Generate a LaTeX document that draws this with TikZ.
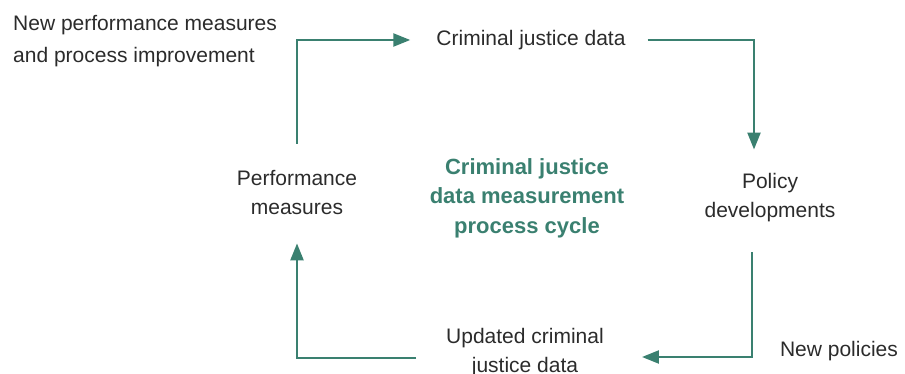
\documentclass[tikz,border=0pt]{standalone}
\usepackage{fontspec}
\setmainfont{Liberation Sans}
\usetikzlibrary{arrows.meta,positioning}

\definecolor{cycleteal}{HTML}{3A8070}
\definecolor{txtgray}{HTML}{2B2B2B}

\tikzset{
  lbl/.style={font=\fontsize{21}{29}\selectfont, text=txtgray, align=center, inner sep=0pt},
  cycletitle/.style={font=\bfseries\fontsize{22}{29.5}\selectfont, text=cycleteal, align=center, inner sep=0pt},
  flow/.style={draw=cycleteal, line width=2.4pt, -{Triangle[length=17pt,width=13pt]}},
}

\begin{document}
\begin{tikzpicture}[x=1pt,y=-1pt]
    \useasboundingbox (0,0) rectangle (905,374);

    % the four stages of the cycle
    \node[lbl] (crim) at (531,40) {Criminal justice data};
    \node[lbl] (policy) at (770,198) {Policy\\developments};
    \node[lbl] (updated) at (525,353) {Updated criminal\\justice data};
    \node[lbl] (perf) at (297,193) {Performance\\measures};

    % side labels
    \node[lbl, align=left, anchor=west, font=\fontsize{21}{32}\selectfont] (newpm) at (13,41) {New performance measures\\and process improvement};
    \node[lbl] (newpol) at (839,351) {New policies};

    \node[cycletitle] (cycle) at (527,198) {Criminal justice\\data measurement\\process cycle};

    % arrows round the cycle
    \draw[flow, shorten >=26pt] ([yshift=27pt]perf.north) |- (crim.west);
    \draw[flow] ([xshift=22pt]crim.east) -| ([xshift=-16pt,yshift=24pt]policy.north);
    \draw[flow] ([xshift=-18pt,yshift=-30pt]policy.south) |- ([xshift=38pt,yshift=-4pt]updated.east);
    \draw[flow] ([xshift=-30pt,yshift=-5pt]updated.west) -| ([yshift=-28pt]perf.south);
\end{tikzpicture}
\end{document}
